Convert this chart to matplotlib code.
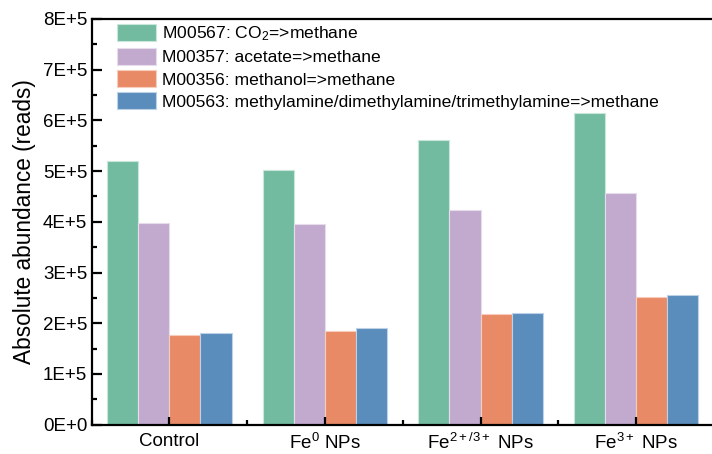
import numpy as np
import matplotlib
matplotlib.use("Agg")
import matplotlib.pyplot as plt
from matplotlib.ticker import MultipleLocator

plt.rcParams['font.family'] = ['Liberation Sans', 'DejaVu Sans']
plt.rcParams['mathtext.fontset'] = 'custom'
plt.rcParams['mathtext.rm'] = 'Liberation Sans'
plt.rcParams['mathtext.it'] = 'Liberation Sans:italic'

groups = ["Control", "Fe$^{0}$ NPs", "Fe$^{2+/3+}$ NPs", "Fe$^{3+}$ NPs"]
series = [
    "M00567: CO$_{2}$=>methane",
    "M00357: acetate=>methane",
    "M00356: methanol=>methane",
    "M00563: methylamine/dimethylamine/trimethylamine=>methane",
]
co2 = [5.19e5, 5.02e5, 5.61e5, 6.15e5]
acetate = [3.98e5, 3.95e5, 4.23e5, 4.56e5]
methanol = [1.76e5, 1.84e5, 2.18e5, 2.51e5]
methylamine = [1.81e5, 1.91e5, 2.21e5, 2.55e5]
colors = ["#72bba1", "#c2aacf", "#e98a67", "#5a8dbb"]
edges = ["#c8e6da", "#e6dcec", "#f6cdbd", "#bdd2e6"]

yticks = [0, 1e5, 2e5, 3e5, 4e5, 5e5, 6e5, 7e5, 8e5]
ytick_labels = ["0E+0", "1E+5", "2E+5", "3E+5", "4E+5", "5E+5", "6E+5", "7E+5", "8E+5"]

fig = plt.figure(figsize=(7.12, 4.54), dpi=100)
ax = fig.add_axes([91.5 / 712, 1 - 424.6 / 454, (714 - 91.5) / 712, (424.6 - 19) / 454])

x = np.arange(len(groups))
w = 0.2
for i, vals in enumerate([co2, acetate, methanol, methylamine]):
    ax.bar(x - 0.3 + i * w, vals, width=w, color=colors[i], edgecolor=edges[i],
           linewidth=0.8, label=series[i])

ax.set_xlim(-0.5, 3.5)
ax.set_ylim(0, 8e5)
ax.set_xticks(x)
ax.set_xticklabels(groups)
ax.xaxis.set_minor_locator(MultipleLocator(1, offset=0.5))
ax.set_yticks(yticks)
ax.set_yticklabels(ytick_labels)
ax.yaxis.set_minor_locator(MultipleLocator(0.5e5))

for s in ax.spines.values():
    s.set_linewidth(1.6)
ax.tick_params(axis='both', which='major', direction='in', width=1.6, labelsize=13.5)
ax.tick_params(axis='y', which='major', length=7, pad=3)
ax.tick_params(axis='x', which='major', length=6, pad=6)
ax.tick_params(axis='both', which='minor', direction='in', width=1.6, length=3.5)

ax.set_ylabel("Absolute abundance (reads)", fontsize=16.3, labelpad=5)

ax.legend(loc='upper left', bbox_to_anchor=(117 / 712, 1 - 24 / 454),
          bbox_transform=fig.transFigure, frameon=False, fontsize=12.6,
          borderpad=0, borderaxespad=0, handlelength=2.2, handleheight=1.1,
          handletextpad=0.35, labelspacing=0.28)

fig.savefig("out.png", dpi=100)
